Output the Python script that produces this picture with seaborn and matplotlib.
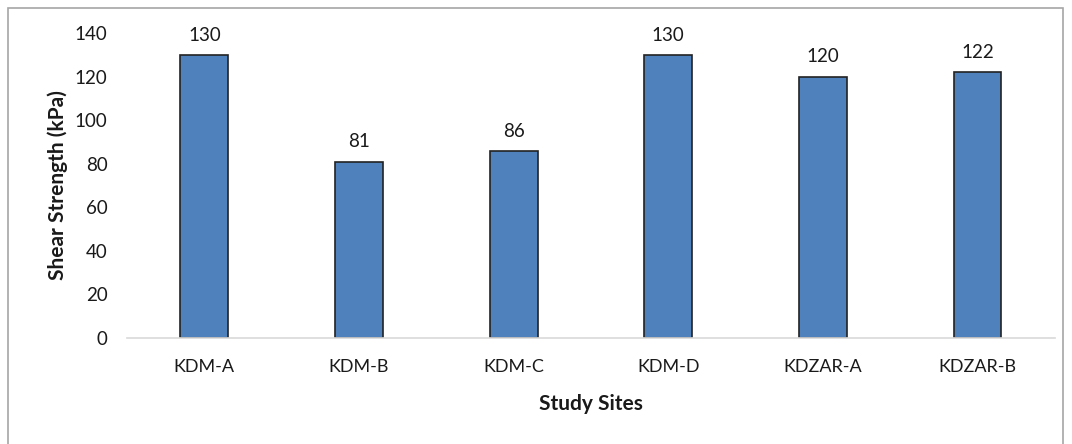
import matplotlib
matplotlib.use("Agg")
import matplotlib.pyplot as plt
import seaborn as sns
import pandas as pd
from matplotlib.patches import Rectangle

sites = ["KDM-A", "KDM-B", "KDM-C", "KDM-D", "KDZAR-A", "KDZAR-B"]
shear_strength = [130, 81, 86, 130, 120, 122]
y_ticks = [0, 20, 40, 60, 80, 100, 120, 140]

sns.set_theme(style="white")
plt.rcParams["font.family"] = ["Lato", "DejaVu Sans"]

TEXT = "#1a1a1a"
df = pd.DataFrame({"site": sites, "strength": shear_strength})

fig = plt.figure(figsize=(10.72, 4.44), dpi=100)
ax = fig.add_axes([0.1185, 0.2387, 0.8655, 0.687])

sns.barplot(data=df, x="site", y="strength", ax=ax, color="#4F81BD",
            width=0.31, edgecolor="#222222", linewidth=1.2, saturation=1)

for patch, val in zip(ax.patches, shear_strength):
    ax.annotate(f"{val}", (patch.get_x() + patch.get_width() / 2, val),
                xytext=(0, 8), textcoords="offset points",
                ha="center", va="bottom", fontsize=13.5, color=TEXT)

ax.set_ylim(0, 140)
ax.set_yticks(y_ticks)
ax.set_xlim(-0.5, len(sites) - 0.5)
ax.tick_params(axis="x", labelsize=13, colors=TEXT, length=0, pad=15)
ax.tick_params(axis="y", labelsize=13.5, colors=TEXT, length=0, pad=14)

ax.set_xlabel("Study Sites", fontsize=15, fontweight="bold", color=TEXT, labelpad=14)
ax.set_ylabel("Shear Strength (kPa)", fontsize=15, fontweight="bold", color=TEXT, labelpad=5)

for side in ["top", "right", "left"]:
    ax.spines[side].set_visible(False)
ax.spines["bottom"].set_color("#d9d9d9")
ax.spines["bottom"].set_linewidth(1.2)

# outer frame of the chart area
fig.patches.append(Rectangle((8 / 1072, -0.05), (1063 - 8) / 1072, (444 - 8) / 444 + 0.05,
                             transform=fig.transFigure, fill=False,
                             edgecolor="#a6a6a6", linewidth=1.2))

fig.savefig("out.png", dpi=100)
